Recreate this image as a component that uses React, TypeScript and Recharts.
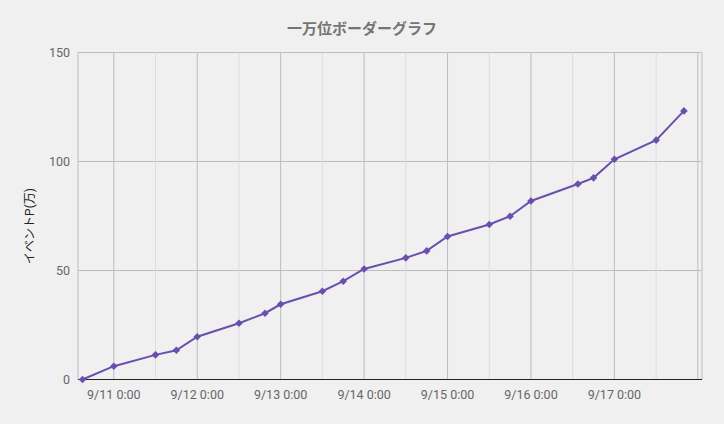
import React from 'react';
import { LineChart, Line, XAxis, YAxis, CartesianGrid, ReferenceLine } from 'recharts';

// hours counted from 9/11 0:00
const hours = [-9, 0, 12, 18, 24, 36, 43.5, 48, 60, 66, 72, 84, 90, 96, 108, 114, 120, 133.5, 138, 144, 156, 164];
const points = [0, 6.1, 11.3, 13.4, 19.6, 25.8, 30.4, 34.5, 40.5, 45.1, 50.7, 55.8, 59.0, 65.6, 71.1, 74.9, 81.9, 89.7, 92.5, 101.0, 109.8, 123.2];

const dayTicks = [0, 24, 48, 72, 96, 120, 144, 168];
const halfDayLines = [12, 36, 60, 84, 108, 132, 156];
const yTicks = [0, 50, 100, 150];

const data = hours.map((h, i) => ({ h, p: points[i] }));

const FONT = 'Roboto, "Noto Sans CJK JP", sans-serif';
const PURPLE = '#6a4fae';

const Diamond = (props: any) => {
  const { cx, cy } = props;
  if (cx == null || cy == null) return null;
  const r = 3.8;
  return (
    <polygon
      points={`${cx},${cy - r} ${cx + r},${cy} ${cx},${cy + r} ${cx - r},${cy}`}
      fill={PURPLE}
    />
  );
};

const dayLabel = (v: number) => (v >= 168 ? '' : `9/${11 + v / 24} 0:00`);

const App = () => {
  return (
    <div
      style={{
        position: 'fixed',
        left: 0,
        top: 0,
        width: 724,
        height: 424,
        background: '#f0f0f0',
        fontFamily: FONT,
      }}
    >
      <div
        style={{
          position: 'absolute',
          top: 17,
          left: 0,
          width: 724,
          textAlign: 'center',
          fontSize: 15,
          fontWeight: 'bold',
          color: '#757575',
        }}
      >
        一万位ボーダーグラフ
      </div>
      <LineChart width={724} height={424} data={data} margin={{ top: 52.5, right: 22, bottom: 14.5, left: 0 }}>
        <CartesianGrid stroke="#bdbdbd" strokeWidth={1} />
        {halfDayLines.map((x) => (
          <ReferenceLine key={x} x={x} stroke="#dcdcdc" strokeWidth={1} />
        ))}
        <XAxis
          dataKey="h"
          type="number"
          domain={[-10.3, 169.2]}
          ticks={dayTicks}
          tickFormatter={dayLabel}
          allowDataOverflow
          interval={0}
          height={30}
          tickLine={false}
          tickMargin={5}
          stroke="#222"
          tick={{ fill: '#666', fontSize: 12.5, fontFamily: FONT }}
        />
        <YAxis
          type="number"
          domain={[0, 150]}
          ticks={yTicks}
          width={78}
          axisLine={false}
          tickLine={false}
          tick={{ fill: '#666', fontSize: 12.5, fontFamily: FONT }}
          label={{
            content: () => (
              <text
                x={34}
                y={226}
                transform="rotate(-90 34 226)"
                textAnchor="middle"
                fill="#222"
                fontSize={12}
                fontFamily={FONT}
              >
                イベントP(万)
              </text>
            ),
          }}
        />
        <Line
          dataKey="p"
          type="linear"
          stroke={PURPLE}
          strokeWidth={2}
          dot={<Diamond />}
          activeDot={false}
          isAnimationActive={false}
        />
      </LineChart>
    </div>
  );
};

export default App;
